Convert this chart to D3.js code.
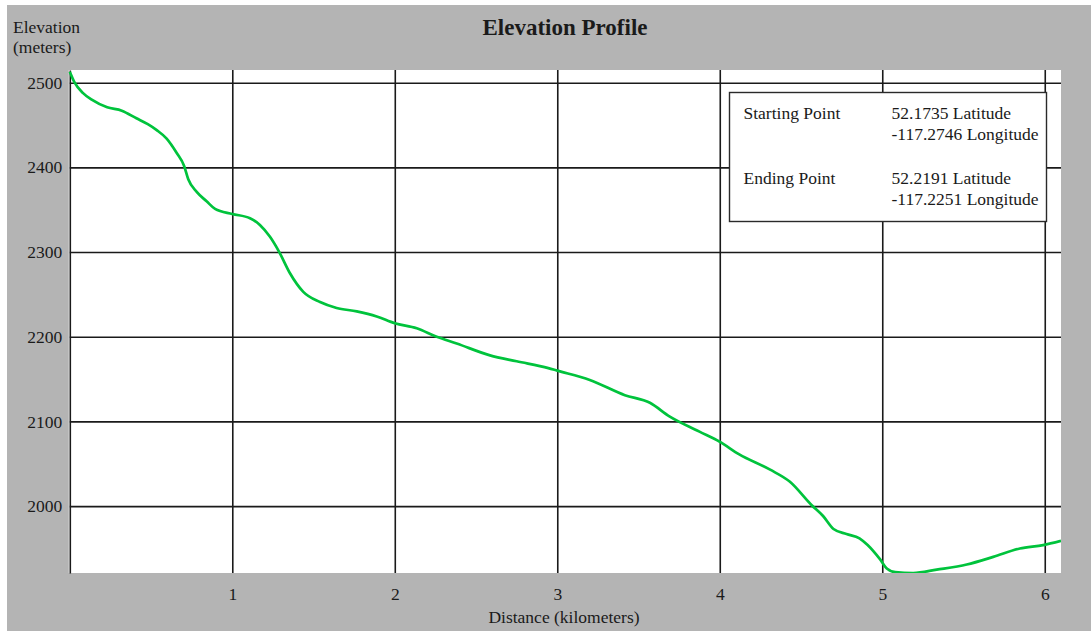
<!DOCTYPE html>
<html>
<head>
<meta charset="utf-8">
<script src="https://cdn.jsdelivr.net/npm/d3@7"></script>
<style>
  html, body { margin: 0; padding: 0; background: #ffffff; }
  svg { display: block; }
  text { font-family: "Liberation Serif", "Times New Roman", serif; fill: #1a1a1a; }
</style>
</head>
<body>
<svg id="chart" width="1091" height="631"></svg>
<script>
// ---- data ----
const distanceKm = [0.0, 0.03, 0.08, 0.135, 0.23, 0.32, 0.41, 0.48, 0.535, 0.596, 0.658, 0.703, 0.729, 0.781, 0.842, 0.894,
  1.0, 1.109, 1.17, 1.232, 1.289, 1.355, 1.437, 1.54, 1.642, 1.766, 1.889, 2.0, 2.135, 2.258, 2.381, 2.586, 2.75, 2.945,
  3.0, 3.2, 3.416, 3.57, 3.69, 3.875, 4.0, 4.12, 4.31, 4.43, 4.566, 4.637, 4.70, 4.78, 4.86, 4.91, 4.987, 5.03, 5.08,
  5.19, 5.335, 5.52, 5.683, 5.847, 5.99, 6.10];
const elevationM = [2513, 2500, 2488, 2480, 2471, 2467, 2458, 2451, 2444, 2434, 2417, 2402, 2386, 2371, 2360, 2351,
  2345, 2340, 2332, 2318, 2300, 2275, 2253, 2241, 2234, 2230, 2224, 2216, 2210, 2200, 2192, 2178, 2171, 2163,
  2160, 2149, 2131, 2122, 2106, 2088, 2076, 2061, 2043, 2029, 2001, 1988, 1973, 1967, 1962, 1954, 1937, 1926, 1922,
  1921, 1925, 1931, 1940, 1950, 1954, 1959];
const xTicks = [1, 2, 3, 4, 5, 6];
const yTicks = [2000, 2100, 2200, 2300, 2400, 2500];
const xDomain = [0, 6.1];
const yDomain = [1921, 2515];
const titleText = "Elevation Profile";
const yTitleLines = ["Elevation", "(meters)"];
const xTitleText = "Distance (kilometers)";
const legendLabels = ["Starting Point", "Ending Point"];
const legendLat = ["52.1735 Latitude", "52.2191 Latitude"];
const legendLon = ["-117.2746 Longitude", "-117.2251 Longitude"];

// ---- layout ----
const svg = d3.select("#chart");
const W = 1091, H = 631;
const plot = { left: 69.8, top: 70, right: 1061, bottom: 573 };
const pw = plot.right - plot.left, ph = plot.bottom - plot.top;

svg.append("rect").attr("x", 0).attr("y", 0).attr("width", W).attr("height", H).attr("fill", "#ffffff");
svg.append("rect").attr("x", 7).attr("y", 5).attr("width", W - 7).attr("height", H - 5).attr("fill", "#b4b4b4");
svg.append("rect").attr("x", plot.left - 1).attr("y", plot.top).attr("width", pw + 1).attr("height", ph).attr("fill", "#ffffff");

const x = d3.scaleLinear().domain(xDomain).range([plot.left, plot.right]);
const y = d3.scaleLinear().domain(yDomain).range([plot.bottom, plot.top]);

// x grid + labels
const gx = svg.append("g").attr("transform", `translate(0,${plot.bottom})`)
  .call(d3.axisBottom(x).tickValues(xTicks).tickFormat(d3.format("d")).tickSize(-ph).tickPadding(15));
gx.select(".domain").remove();
gx.selectAll(".tick line").attr("stroke", "#1a1a1a").attr("stroke-width", 1.6);
gx.selectAll(".tick text").style("font-size", "17.5px").attr("fill", "#1a1a1a")
  .style("font-family", '"Liberation Serif", "Times New Roman", serif');

// y grid + labels
const gy = svg.append("g").attr("transform", `translate(${plot.left},0)`)
  .call(d3.axisLeft(y).tickValues(yTicks).tickFormat(d3.format("d")).tickSize(-pw).tickSizeOuter(0).tickPadding(7.5));
gy.select(".domain").attr("stroke", "#1a1a1a").attr("stroke-width", 1.6);
gy.selectAll(".tick line").attr("stroke", "#1a1a1a").attr("stroke-width", 1.6);
gy.selectAll(".tick text").style("font-size", "17.5px").attr("fill", "#1a1a1a")
  .style("font-family", '"Liberation Serif", "Times New Roman", serif');

// clip
svg.append("clipPath").attr("id", "clip").append("rect")
  .attr("x", plot.left - 2).attr("y", plot.top).attr("width", pw + 2).attr("height", ph);

// line
const pts = distanceKm.map((d, i) => [d, elevationM[i]]);
svg.append("path").datum(pts)
  .attr("clip-path", "url(#clip)")
  .attr("fill", "none")
  .attr("stroke", "#00c33c")
  .attr("stroke-width", 2.7)
  .attr("stroke-linejoin", "round")
  .attr("d", d3.line().curve(d3.curveMonotoneX).x(d => x(d[0])).y(d => y(d[1])));

// legend box
const lg = svg.append("g");
lg.append("rect").attr("x", 729.5).attr("y", 92.5).attr("width", 317).attr("height", 129)
  .attr("fill", "#ffffff").attr("stroke", "#2a2a2a").attr("stroke-width", 1.4);
const rowY = [119, 183.5];
legendLabels.forEach((lab, i) => {
  lg.append("text").attr("x", 743.5).attr("y", rowY[i]).style("font-size", "17.5px").text(lab);
  lg.append("text").attr("x", 891.5).attr("y", rowY[i]).style("font-size", "17.5px").text(legendLat[i]);
  lg.append("text").attr("x", 891.5).attr("y", rowY[i] + 21).style("font-size", "17.5px").text(legendLon[i]);
});

// titles
svg.append("text").attr("x", 565).attr("y", 35).attr("text-anchor", "middle")
  .style("font-size", "23px").style("font-weight", "bold").text(titleText);
yTitleLines.forEach((t, i) => {
  svg.append("text").attr("x", 13).attr("y", 33 + i * 20).style("font-size", "17.5px").text(t);
});
svg.append("text").attr("x", 564).attr("y", 623).attr("text-anchor", "middle")
  .style("font-size", "17.5px").text(xTitleText);
</script>
</body>
</html>
